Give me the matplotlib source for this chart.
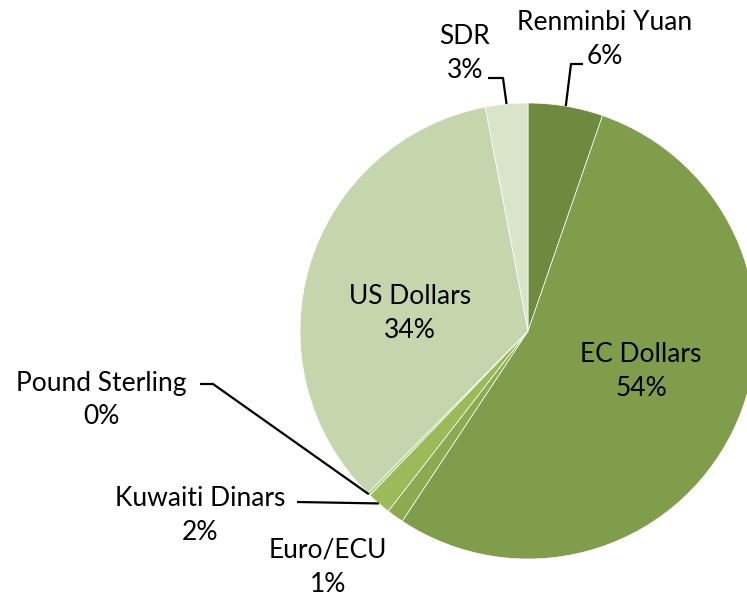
import matplotlib.pyplot as plt
import numpy as np

W, H = 747, 599

currencies = ["Renminbi Yuan", "EC Dollars", "Euro/ECU", "Kuwaiti Dinars",
              "Pound Sterling", "US Dollars", "SDR"]
shares = [5.3, 54.0, 1.2, 1.7, 0.2, 34.6, 3.0]
pct_labels = ["6%", "54%", "1%", "2%", "0%", "34%", "3%"]
colors = ["#6F893E", "#809D4B", "#8CAA50", "#9BBB59", "#B3CB8A", "#C5D5AC", "#D9E4C8"]

# label centres in pixel coords (x, y from top)
label_pos = [(605, 39), (641, 372), (328, 567), (200, 515), (101, 400), (410, 313), (465, 54)]
# leader lines: points after the pie edge, in pixel coords, None if no line
leaders = [
    [(571, 64), (583, 64)],
    None,
    None,
    [(297, 502)],
    [(213, 384), (200, 384)],
    None,
    [(503, 78), (488, 78)],
]

cx, cy, r = 528, 331, 228

fig = plt.figure(figsize=(W / 100, H / 100), dpi=100)
ax = fig.add_axes([0, 0, 1, 1])
wedges, _ = ax.pie(shares, colors=colors, startangle=90, counterclock=False,
                   center=(cx, H - cy), radius=r,
                   wedgeprops=dict(edgecolor="white", linewidth=0.5))
ax.set_xlim(0, W)
ax.set_ylim(0, H)
ax.set_aspect("equal")
ax.axis("off")

for wedge, name, pct, (lx, ly), lead in zip(wedges, currencies, pct_labels, label_pos, leaders):
    ax.text(lx, H - ly, f"{name}\n{pct}", ha="center", va="center",
            fontsize=19, family="Lato", linespacing=1.45, color="black")
    if lead is not None:
        mid = np.deg2rad((wedge.theta1 + wedge.theta2) / 2)
        sx = cx + r * np.cos(mid)
        sy = (H - cy) + r * np.sin(mid)
        xs = [sx] + [p[0] for p in lead]
        ys = [sy] + [H - p[1] for p in lead]
        ax.plot(xs, ys, color="black", linewidth=1.6, solid_capstyle="butt")

fig.savefig("out.png", dpi=100)
